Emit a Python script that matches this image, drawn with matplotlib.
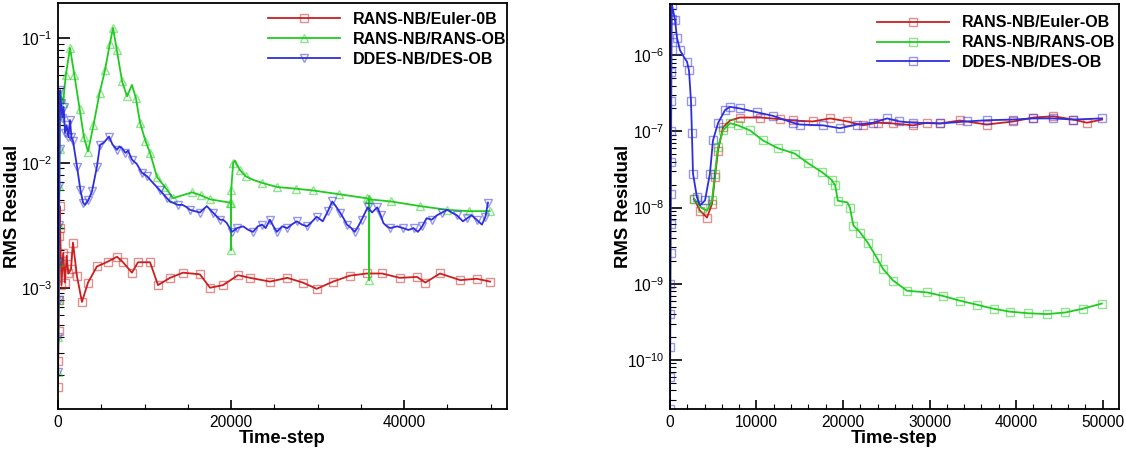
import numpy as np
import matplotlib
matplotlib.use("Agg")
import matplotlib.pyplot as plt
from matplotlib.ticker import LogLocator, NullFormatter, MultipleLocator

plt.rcParams['font.family'] = ['Liberation Sans', 'DejaVu Sans']
plt.rcParams['mathtext.default'] = 'regular'

# ---- left panel: RANS-NB/Euler-0B (red) ----
t_l_euler = [0, 30, 60, 90, 120, 160, 200, 250, 400, 600, 800, 1000, 1200, 1500, 1730,
             2200, 2770, 3470, 4500, 5780, 6820, 7510, 8550, 9250, 10640, 11560, 12950,
             14450, 16400, 17570, 19080, 20800, 22200, 24500, 26500, 28300, 29900, 31800,
             33750, 35700, 37450, 39500, 41500, 42450, 44150, 46500, 48400, 49950]
r_l_euler = [1.6e-4, 2.6e-4, 4.5e-4, 8e-4, 1.5e-3, 2.6e-3, 4.5e-3, 3.0e-3, 1.05e-3, 1.9e-3,
             1.1e-3, 1.8e-3, 1.3e-3, 1.4e-3, 2.3e-3, 1.23e-3, 7.7e-4, 1.1e-3, 1.48e-3,
             1.62e-3, 1.77e-3, 1.6e-3, 1.32e-3, 1.6e-3, 1.6e-3, 1.05e-3, 1.2e-3, 1.32e-3,
             1.28e-3, 1.0e-3, 1.05e-3, 1.26e-3, 1.2e-3, 1.12e-3, 1.2e-3, 1.1e-3, 9.8e-4,
             1.12e-3, 1.25e-3, 1.3e-3, 1.3e-3, 1.2e-3, 1.22e-3, 1.1e-3, 1.3e-3, 1.15e-3,
             1.18e-3, 1.12e-3]

# ---- left panel: RANS-NB/RANS-OB (green) ----
t_l_rans = [0, 30, 60, 90, 120, 150, 180, 210, 250, 580, 900, 1390, 1900, 2500, 3000, 3470,
            4100, 4800, 5430, 6000, 6360, 6800, 7400, 7980, 8550, 9000, 9480, 10100, 10640,
            11440, 12370, 13300, 14400, 15490, 16500, 17570, 19880, 19990, 20000, 20010,
            20250, 20460, 21000, 21700, 22550, 23600, 25300, 27500, 29500, 32500, 35700,
            35950, 35960, 35970, 38500, 41850, 45000, 47500, 49900]
r_l_rans = [2.1e-4, 4e-4, 8e-4, 1.6e-3, 3.2e-3, 6.5e-3, 0.013, 0.024, 0.036, 0.030, 0.05,
            0.083, 0.05, 0.027, 0.016, 0.0123, 0.02, 0.036, 0.055, 0.09, 0.12, 0.08, 0.045,
            0.034, 0.042, 0.033, 0.021, 0.015, 0.012, 0.0077, 0.0064, 0.0052, 0.0055, 0.0058,
            0.0055, 0.0051, 0.0048, 0.0048, 0.0020, 0.0060, 0.0100, 0.0104, 0.0088, 0.0078,
            0.0073, 0.0069, 0.0064, 0.0062, 0.0060, 0.0056, 0.0052, 0.0051, 0.00115, 0.0051,
            0.0049, 0.0045, 0.0042, 0.0041, 0.0041]

# ---- left panel: DDES-NB/DES-OB (blue) ----
t_l_ddes = [0, 30, 60, 90, 120, 150, 180, 210, 230, 350, 500, 650, 810, 1000, 1200, 1390,
            1550, 1730, 2200, 2600, 2900, 3120, 3500, 3930, 4500, 4860, 5300, 5900, 6300,
            6820, 7100, 7400, 7800, 8100, 8550, 9100, 9710, 10300, 10980, 11800, 12600,
            12950, 13870, 14400, 14900, 15260, 16400, 17200, 17900, 18730, 19080, 19500,
            20100, 20700, 21400, 22000, 22550, 23100, 23600, 24000, 24500, 24900, 25300,
            25900, 26500, 27000, 27600, 28200, 28800, 29400, 29900, 30600, 31200, 31700,
            32100, 32600, 33000, 33400, 33900, 34300, 34700, 35100, 35500, 35800, 36300,
            36900, 37300, 37600, 38000, 38400, 39200, 39900, 40500, 41100, 41600, 42100,
            42600, 43200, 43800, 44400, 45000, 45500, 46100, 46800, 47300, 47800, 48400,
            49000, 49400, 49700]
r_l_ddes = [2.1e-4, 4e-4, 8e-4, 1.6e-3, 3.2e-3, 6.5e-3, 0.013, 0.024, 0.038, 0.03, 0.023,
            0.028, 0.0174, 0.02, 0.016, 0.022, 0.016, 0.015, 0.0093, 0.006, 0.0048, 0.0046,
            0.0050, 0.0059, 0.0093, 0.0139, 0.0145, 0.0162, 0.014, 0.0127, 0.0135, 0.0131,
            0.0120, 0.0125, 0.0106, 0.0098, 0.0083, 0.0078, 0.0069, 0.0060, 0.0052, 0.0049,
            0.0046, 0.0046, 0.0044, 0.0042, 0.0040, 0.0045, 0.0040, 0.0035, 0.0035, 0.0033,
            0.0028, 0.0030, 0.0031, 0.0029, 0.0028, 0.0031, 0.0032, 0.0030, 0.0035, 0.0031,
            0.0028, 0.0031, 0.0030, 0.0032, 0.0034, 0.0032, 0.0031, 0.0034, 0.0037, 0.0034,
            0.0041, 0.0049, 0.0045, 0.0040, 0.0036, 0.0032, 0.0030, 0.0028, 0.0031, 0.0035,
            0.0040, 0.0044, 0.0040, 0.0044, 0.0038, 0.0033, 0.0031, 0.0030, 0.0031, 0.0030,
            0.0029, 0.0030, 0.0028, 0.0031, 0.0036, 0.0035, 0.0038, 0.0040, 0.0042, 0.0040,
            0.0038, 0.0034, 0.0036, 0.0038, 0.0035, 0.0032, 0.0037, 0.0048]

# ---- right panel: DDES-NB/DES-OB (blue) ----
t_r_ddes = [0, 15, 30, 45, 60, 75, 90, 105, 120, 135, 150, 165, 180, 200, 230, 580, 810,
            1160, 1600, 1970, 2200, 2430, 2540, 2660, 3120, 3470, 4050, 4620, 4970, 5550,
            6360, 6940, 8090, 10050, 11900, 14200, 15000, 17700, 19650, 21600, 23500,
            25100, 26500, 28100, 31200, 34300, 36600, 39700, 42000, 44300, 46600, 49950]
r_r_ddes = [2.3e-11, 6e-11, 1.5e-10, 4e-10, 1e-9, 2.5e-9, 6e-9, 1.5e-8, 4e-8, 1e-7, 2.5e-7,
            6e-7, 1.5e-6, 3e-6, 4.6e-6, 2.9e-6, 1.7e-6, 1.16e-6, 9.5e-7, 8.2e-7, 6.3e-7,
            2.5e-7, 9.4e-8, 2.8e-8, 1.36e-8, 1.07e-8, 1.24e-8, 2.8e-8, 7.6e-8, 1.28e-7,
            1.9e-7, 2.1e-7, 2.0e-7, 1.78e-7, 1.6e-7, 1.3e-7, 1.23e-7, 1.2e-7, 1.1e-7,
            1.23e-7, 1.3e-7, 1.48e-7, 1.35e-7, 1.3e-7, 1.27e-7, 1.35e-7, 1.4e-7, 1.43e-7,
            1.48e-7, 1.48e-7, 1.43e-7, 1.48e-7]

# ---- right panel: RANS-NB/Euler-OB (red) ----
t_r_euler = [2800, 3470, 4280, 4860, 5200, 5550, 6130, 6940, 8090, 10400, 12700, 14200,
             16500, 18500, 20500, 22300, 24000, 25800, 28100, 29700, 31200, 33500, 36600,
             39700, 42000, 44300, 46600, 48200, 49950]
r_r_euler = [1.3e-8, 9.1e-9, 7.4e-9, 1.12e-8, 2.5e-8, 5.6e-8, 1.13e-7, 1.39e-7, 1.52e-7,
             1.52e-7, 1.45e-7, 1.39e-7, 1.35e-7, 1.48e-7, 1.35e-7, 1.2e-7, 1.3e-7, 1.27e-7,
             1.2e-7, 1.3e-7, 1.27e-7, 1.39e-7, 1.23e-7, 1.35e-7, 1.52e-7, 1.58e-7, 1.43e-7,
             1.3e-7, 1.43e-7]

# ---- right panel: RANS-NB/RANS-OB (green) ----
t_r_rans = [2800, 3700, 4280, 4860, 5200, 5550, 6130, 6940, 7860, 9250, 10750, 12500,
            14450, 16000, 17600, 18700, 19100, 19400, 20500, 20800, 21200, 22000, 22900,
            23900, 24600, 25800, 27400, 29700, 31600, 33500, 35500, 37400, 39300, 41400,
            43600, 45700, 47700, 49900]
r_r_rans = [1.3e-8, 9.8e-9, 9.1e-9, 1.24e-8, 2.8e-8, 6.2e-8, 1.03e-7, 1.28e-7, 1.2e-7,
            1.03e-7, 7.6e-8, 6.0e-8, 5.1e-8, 3.8e-8, 2.9e-8, 2.3e-8, 1.95e-8, 1.23e-8,
            1.17e-8, 1.0e-8, 5.8e-9, 4.7e-9, 3.4e-9, 2.2e-9, 1.58e-9, 1.1e-9, 8.1e-10,
            7.7e-10, 6.9e-10, 6.0e-10, 5.3e-10, 4.7e-10, 4.3e-10, 4.1e-10, 4.0e-10,
            4.2e-10, 4.7e-10, 5.5e-10]

RED = (0.80, 0.12, 0.12)
GREEN = (0.12, 0.80, 0.12)
BLUE = (0.18, 0.18, 0.87)


def curve(ax, t, r, col, mk, label):
    ax.plot(t, r, color=col, lw=1.3, marker=mk, ms=5.5, mfc='none',
            mec=col + (0.5,), mew=1.0, markevery=0.022, label=label)


def style(ax, ylim, major_x, minor_x):
    ax.set_yscale('log')
    ax.set_xlim(0, 51900)
    ax.set_ylim(*ylim)
    ax.xaxis.set_major_locator(MultipleLocator(major_x))
    ax.xaxis.set_minor_locator(MultipleLocator(minor_x))
    ax.yaxis.set_major_locator(LogLocator(base=10))
    ax.yaxis.set_minor_locator(LogLocator(base=10, subs=np.arange(2, 10)))
    ax.yaxis.set_minor_formatter(NullFormatter())
    ax.tick_params(which='both', direction='in', top=False, right=False,
                   labelsize=11.2, pad=4)
    ax.tick_params(axis='y', which='major', length=8.5, width=1.2)
    ax.tick_params(axis='y', which='minor', length=4.5, width=0.8)
    ax.tick_params(axis='x', which='major', length=6.5, width=1.2)
    ax.tick_params(axis='x', which='minor', length=3.5, width=0.8)
    for s in ax.spines.values():
        s.set_linewidth(1.3)
    ax.set_xlabel('Time-step', fontsize=13.3, fontweight='bold')
    ax.set_ylabel('RMS Residual', fontsize=13.3, fontweight='bold')
    ax.xaxis.set_label_coords(0.5, -0.051)


fig = plt.figure(figsize=(11.26, 4.53), dpi=100)
ax1 = fig.add_axes([0.0515, 0.0971, 0.3988, 0.8963])
ax2 = fig.add_axes([0.595, 0.0971, 0.3988, 0.8941])

curve(ax1, t_l_euler, r_l_euler, RED, 's', 'RANS-NB/Euler-0B')
curve(ax1, t_l_rans, r_l_rans, GREEN, '^', 'RANS-NB/RANS-OB')
curve(ax1, t_l_ddes, r_l_ddes, BLUE, 'v', 'DDES-NB/DES-OB')
style(ax1, (1.07e-4, 0.19), 20000, 5000)
ax1.yaxis.set_label_coords(-0.082, 0.5)

curve(ax2, t_r_euler, r_r_euler, RED, 's', 'RANS-NB/Euler-OB')
curve(ax2, t_r_rans, r_r_rans, GREEN, 's', 'RANS-NB/RANS-OB')
curve(ax2, t_r_ddes, r_r_ddes, BLUE, 's', 'DDES-NB/DES-OB')
style(ax2, (2.27e-11, 4.7e-6), 10000, 2000)
ax2.yaxis.set_label_coords(-0.084, 0.5)

for ax, x0, y0 in ((ax1, 0.468, 0.978), (ax2, 0.461, 0.972)):
    ax.legend(loc='upper left', bbox_to_anchor=(x0, y0), frameon=False,
              borderpad=0, borderaxespad=0, handlelength=4.5, handletextpad=0.8,
              labelspacing=0.3, prop={'size': 11.5, 'weight': 'bold'}, markerscale=1.0)

fig.savefig('out.png', dpi=100)
